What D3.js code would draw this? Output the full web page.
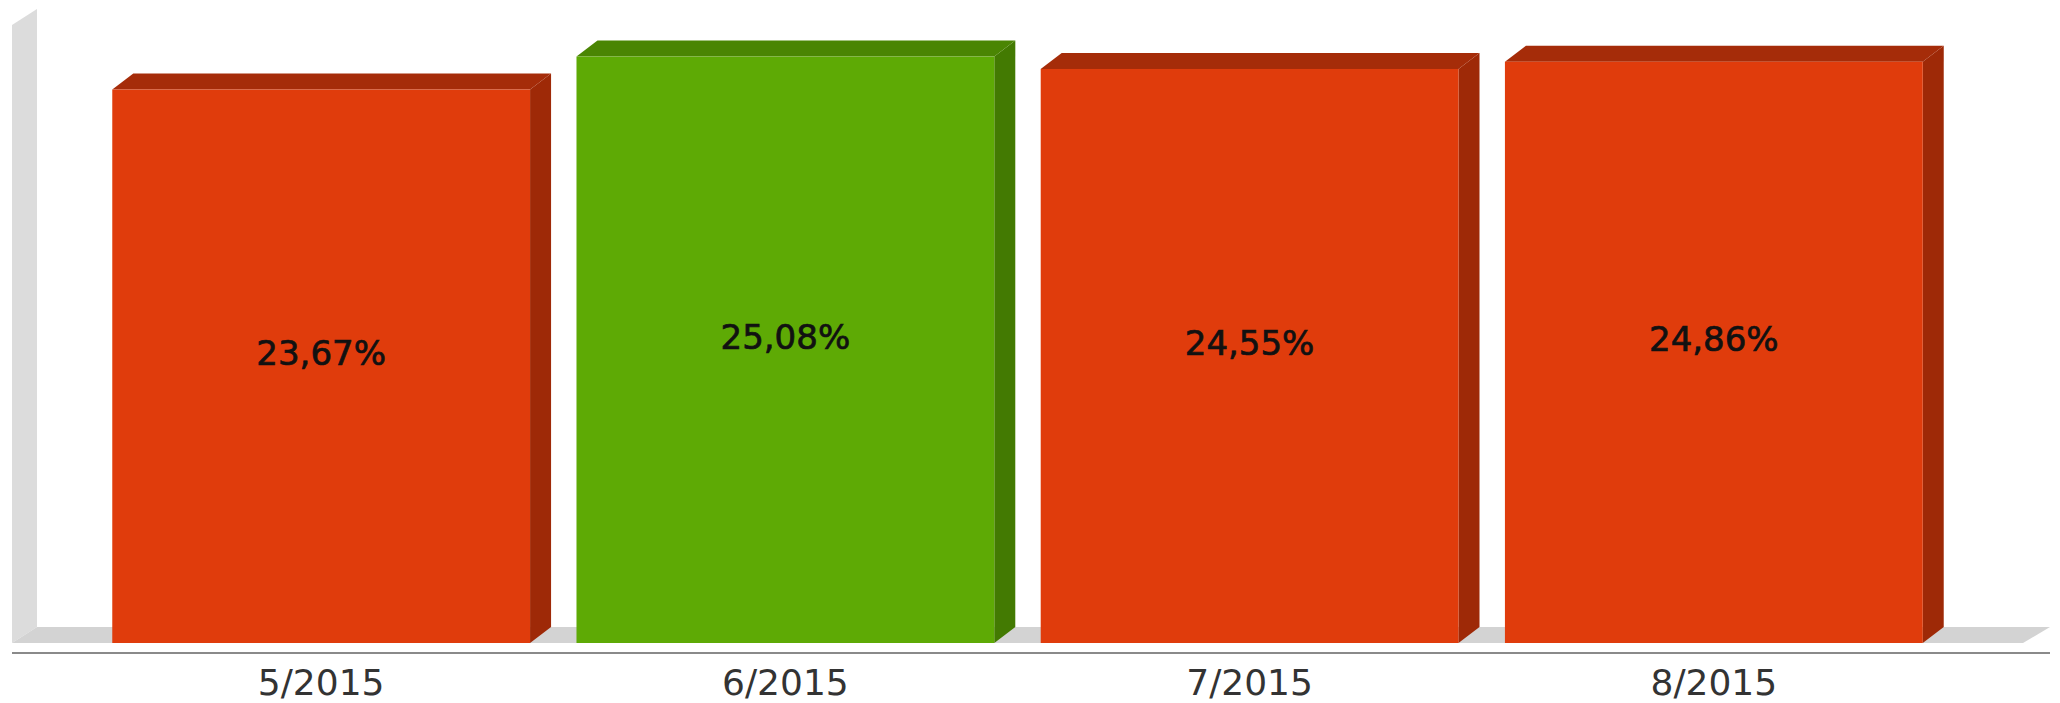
<!DOCTYPE html>
<html>
<head>
<meta charset="utf-8">
<script src="https://cdn.jsdelivr.net/npm/d3@7"></script>
<style>
  body { margin: 0; background: #fff; }
  svg { display: block; }
</style>
</head>
<body>
<div id="chart"></div>
<script>
var months = ["5/2015", "6/2015", "7/2015", "8/2015"],
	values = [23.67, 25.08, 24.55, 24.86],
	labels = ["23,67%", "25,08%", "24,55%", "24,86%"],
	good = [false, true, false, false];

var width = 2060,
	height = 703,
	plotLeft = 12, plotRight = 2023, base = 643, plotTop = 25,
	dx = 21, dy = -16,   // bar depth
	fdx = 25, fdy = -16; // floor / wall depth

var svg = d3.select('#chart')
	.append('svg')
	.attr('width', width)
	.attr('height', height);

var x = d3.scaleBand()
	.domain(months)
	.range([plotLeft, plotRight])
	.paddingInner(0.1)
	.paddingOuter(0.216);

var y = d3.scaleLinear()
	.domain([0, 26.43])
	.range([base, plotTop]);

var pts = function(a) { return a.map(function(p) { return p.join(','); }).join(' '); };

// left wall
svg.append('polygon')
	.attr('points', pts([[plotLeft, base], [plotLeft, plotTop], [plotLeft + fdx, plotTop + fdy], [plotLeft + fdx, base + fdy]]))
	.style('fill', '#dcdcdc');

// floor
svg.append('polygon')
	.attr('points', pts([[plotLeft, base], [plotLeft + fdx, base + fdy], [plotRight + fdx + 2, base + fdy], [plotRight, base]]))
	.style('fill', '#d3d3d3');

// axis line
svg.append('line')
	.attr('x1', plotLeft).attr('x2', plotRight + 27)
	.attr('y1', base + 10).attr('y2', base + 10)
	.style('stroke', '#8a8a8a')
	.style('stroke-width', 2);

var bars = svg.selectAll('g.bar')
	.data(months)
	.enter()
	.append('g')
	.attr('class', 'bar');

bars.append('polygon') // side
	.attr('points', function(d, i) {
		var x1 = x(d) + x.bandwidth(), t = y(values[i]);
		return pts([[x1, t], [x1 + dx, t + dy], [x1 + dx, base + dy], [x1, base]]);
	})
	.style('fill', function(d, i) { return good[i] ? '#437a02' : '#9e2907'; });

bars.append('polygon') // top
	.attr('points', function(d, i) {
		var x0 = x(d), x1 = x0 + x.bandwidth(), t = y(values[i]);
		return pts([[x0, t], [x0 + dx, t + dy], [x1 + dx, t + dy], [x1, t]]);
	})
	.style('fill', function(d, i) { return good[i] ? '#4a8503' : '#a52c09'; });

bars.append('rect') // front
	.attr('x', function(d) { return x(d); })
	.attr('y', function(d, i) { return y(values[i]); })
	.attr('width', x.bandwidth())
	.attr('height', function(d, i) { return base - y(values[i]); })
	.style('fill', function(d, i) { return good[i] ? '#5eaa05' : '#e03c0c'; });

bars.append('text')
	.attr('x', function(d) { return x(d) + x.bandwidth() / 2; })
	.attr('y', function(d, i) { return (y(values[i]) + base) / 2 - 13; })
	.attr('text-anchor', 'middle')
	.attr('dominant-baseline', 'central')
	.style('font-family', 'DejaVu Sans')
	.style('font-size', '34px')
	.style('fill', '#111')
	.style('stroke', '#111')
	.style('stroke-width', 0.7)
	.text(function(d, i) { return labels[i]; });

svg.selectAll('text.month')
	.data(months)
	.enter()
	.append('text')
	.attr('class', 'month')
	.attr('x', function(d) { return x(d) + x.bandwidth() / 2; })
	.attr('y', 682)
	.attr('text-anchor', 'middle')
	.attr('dominant-baseline', 'central')
	.style('font-family', 'DejaVu Sans')
	.style('font-size', '36px')
	.style('fill', '#333')
	.text(function(d) { return d; });
</script>
</body>
</html>
